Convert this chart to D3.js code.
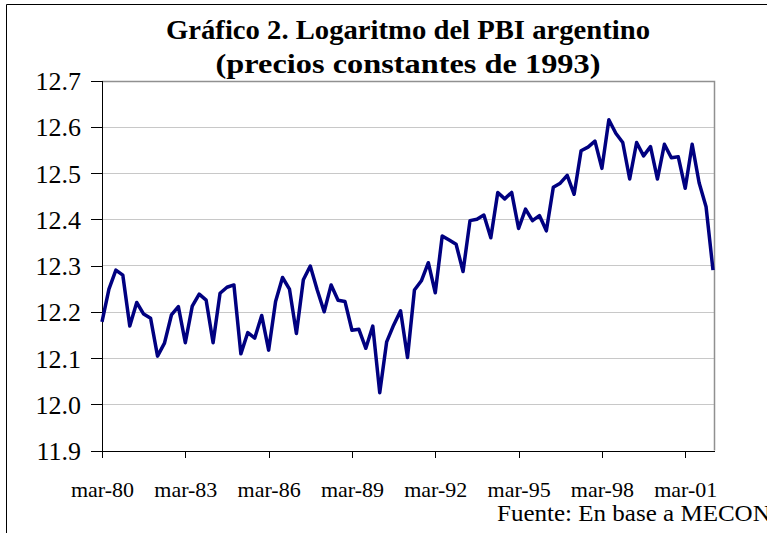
<!DOCTYPE html>
<html>
<head>
  <meta charset="utf-8">
  <title>Logaritmo del PBI argentino</title>
  <style type="text/css">
    body { margin: 0; background: #fff; }
    svg { display: block; font-family: "Liberation Serif", "Times New Roman", serif; }
    .grid line { stroke: #c8c8c8; stroke-width: 1px; }
    .axis path, .axis line { stroke: #000; stroke-width: 1px; shape-rendering: crispEdges; }
    .axis text { fill: #000; font-family: "Liberation Serif", "Times New Roman", serif; }
    .serie { fill: none; stroke: #000080; stroke-width: 3.5px; stroke-linejoin: round; }
  </style>
</head>
<body>
  <div id="chart"></div>
  <script src="https://d3js.org/d3.v7.min.js"></script>
  <script>
    // Trimestres mar-80 a mar-02
    var meses = ["mar", "jun", "sep", "dic"];
    var trimestres = [];
    for (var a = 1980; a <= 2002; a++) {
      meses.forEach(function (m) {
        if (a === 2002 && m !== "mar") return;
        trimestres.push(m + "-" + String(a).slice(2));
      });
    }

    // log del PBI trimestral
    var logPBI = [
      12.178, 12.249, 12.290, 12.279, 12.169, 12.220, 12.195, 12.186,
      12.104, 12.132, 12.193, 12.211, 12.133, 12.212, 12.238, 12.225,
      12.133, 12.240, 12.253, 12.258, 12.109, 12.155, 12.143, 12.192,
      12.117, 12.222, 12.274, 12.249, 12.153, 12.269, 12.299, 12.247,
      12.200, 12.258, 12.225, 12.222, 12.160, 12.162, 12.121, 12.169,
      12.025, 12.135, 12.171, 12.202, 12.101, 12.247, 12.267, 12.306,
      12.241, 12.364, 12.355, 12.346, 12.287, 12.397, 12.400, 12.409,
      12.360, 12.458, 12.444, 12.458, 12.380, 12.422, 12.397, 12.408,
      12.375, 12.469, 12.478, 12.495, 12.454, 12.548, 12.556, 12.569,
      12.510, 12.615, 12.586, 12.566, 12.487, 12.566, 12.537, 12.557,
      12.487, 12.562, 12.533, 12.535, 12.467, 12.562, 12.479, 12.427,
      12.290
    ];

    var yTicks = [11.9, 12.0, 12.1, 12.2, 12.3, 12.4, 12.5, 12.6, 12.7];
    var xTicks = ["mar-80", "mar-83", "mar-86", "mar-89", "mar-92", "mar-95", "mar-98", "mar-01"];

    var width = 767,
        height = 533,
        plot = { left: 102, right: 714, top: 80.5, bottom: 450.5 };

    var svg = d3.select("#chart").append("svg")
        .attr("width", width)
        .attr("height", height);

    svg.append("rect").attr("width", width).attr("height", height).attr("fill", "#fff");

    // marco exterior (solo arriba e izquierda visibles)
    svg.append("path")
        .attr("d", "M6.5," + height + "V4.5H" + width)
        .attr("fill", "none")
        .attr("stroke", "#000")
        .attr("stroke-width", 1);

    var x = d3.scalePoint()
        .domain(trimestres)
        .range([plot.left, plot.right - 1]);

    var y = d3.scaleLinear()
        .domain([11.9, 12.7])
        .range([plot.bottom, plot.top]);

    // lineas de grilla
    svg.append("g").attr("class", "grid")
      .selectAll("line")
      .data(yTicks.slice(1, -1))
      .enter().append("line")
        .attr("x1", plot.left).attr("x2", plot.right)
        .attr("y1", function (d) { return Math.round(y(d)) + 0.5; })
        .attr("y2", function (d) { return Math.round(y(d)) + 0.5; });

    // borde gris del area de trazado
    svg.append("path")
        .attr("d", "M" + plot.left + "," + (Math.round(plot.top) + 0.5) +
                   "H" + (plot.right + 0.5) + "V" + plot.bottom)
        .attr("fill", "none")
        .attr("stroke", "#909090")
        .attr("stroke-width", 1.5);

    // eje Y
    var yAxis = svg.append("g")
        .attr("class", "axis")
        .attr("transform", "translate(" + plot.left + ",0)")
        .call(d3.axisLeft(y).tickValues(yTicks).tickFormat(d3.format(".1f"))
              .tickSizeInner(11).tickSizeOuter(0).tickPadding(10));
    yAxis.attr("font-family", null).attr("font-size", null);
    yAxis.selectAll("text")
        .style("font-size", "26px")
        .attr("dy", "0.35em");

    // eje X
    var xAxis = svg.append("g")
        .attr("class", "axis")
        .attr("transform", "translate(0," + plot.bottom + ")")
        .call(d3.axisBottom(x).tickValues(xTicks)
              .tickSizeInner(7).tickSizeOuter(0).tickPadding(24));
    xAxis.attr("font-family", null).attr("font-size", null);
    xAxis.select(".domain").attr("d", "M" + plot.left + ",0.5H" + (plot.right + 0.5));
    xAxis.selectAll("text")
        .style("font-size", "22px");

    // serie
    var line = d3.line()
        .x(function (d, i) { return x(trimestres[i]); })
        .y(function (d) { return y(d); });

    svg.append("path")
        .datum(logPBI)
        .attr("class", "serie")
        .attr("d", line);

    // titulo
    var cx = (plot.left + plot.right) / 2;
    svg.append("text")
        .attr("x", cx).attr("y", 39)
        .attr("text-anchor", "middle")
        .attr("font-weight", "bold")
        .attr("font-size", 28)
        .attr("textLength", 484)
        .attr("lengthAdjust", "spacingAndGlyphs")
        .text("Gráfico 2. Logaritmo del PBI argentino");

    svg.append("text")
        .attr("x", cx).attr("y", 73)
        .attr("text-anchor", "middle")
        .attr("font-weight", "bold")
        .attr("font-size", 28)
        .attr("textLength", 385)
        .attr("lengthAdjust", "spacingAndGlyphs")
        .text("(precios constantes de 1993)");

    // fuente
    svg.append("text")
        .attr("x", 497).attr("y", 521)
        .attr("font-size", 23)
        .attr("textLength", 280)
        .attr("lengthAdjust", "spacingAndGlyphs")
        .text("Fuente: En base a MECON.");
  </script>
</body>
</html>
